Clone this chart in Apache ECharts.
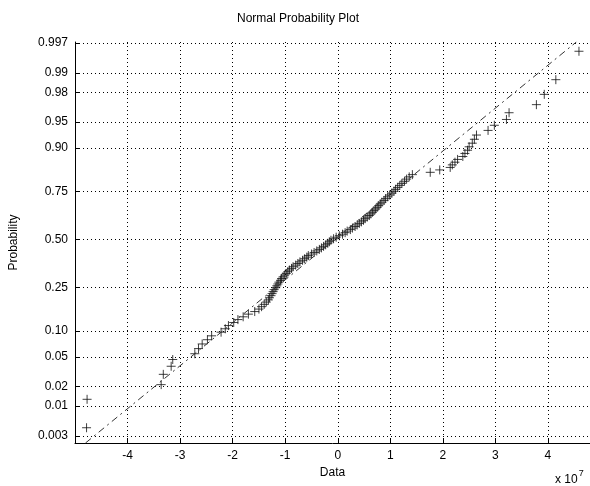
<!DOCTYPE html>
<html><head><meta charset="utf-8">
<script src="https://cdn.jsdelivr.net/npm/echarts@6/dist/echarts.min.js"></script>
<style>html,body{margin:0;padding:0;background:#fff}#c{width:590px;height:486px}</style>
</head><body><div id="c"></div>
<script>
// Sorted sample values (units of 10^7)
const sampleValues = [
 -4.78, -4.77, -3.36, -3.32, -3.17, -3.14, -2.72, -2.65, -2.58, -2.48,
 -2.40, -2.22, -2.14, -2.08, -1.98, -1.90, -1.80, -1.70, -1.58, -1.50,
 -1.45, -1.40, -1.36, -1.32, -1.30, -1.27, -1.25, -1.23, -1.21, -1.18,
 -1.16, -1.14, -1.12, -1.09, -1.07, -1.04, -1.01, -0.98, -0.95, -0.92,
 -0.88, -0.85, -0.80, -0.76, -0.72, -0.67, -0.63, -0.59, -0.56, -0.50,
 -0.45, -0.40, -0.35, -0.31, -0.27, -0.23, -0.19, -0.16, -0.13, -0.08,
 -0.03, 0.03, 0.09, 0.14, 0.18, 0.24, 0.28, 0.33, 0.37, 0.41,
 0.45, 0.49, 0.52, 0.56, 0.60, 0.63, 0.66, 0.69, 0.72, 0.75,
 0.78, 0.81, 0.84, 0.88, 0.91, 0.95, 0.99, 1.03, 1.07, 1.10,
 1.14, 1.18, 1.22, 1.27, 1.31, 1.36, 1.42, 1.76, 1.94, 2.14,
 2.18, 2.23, 2.28, 2.38, 2.42, 2.47, 2.50, 2.56, 2.60, 2.64,
 2.86, 2.98, 3.21, 3.26, 3.78, 3.93, 4.15, 4.59
];
const probTicks = [0.003, 0.01, 0.02, 0.05, 0.10, 0.25, 0.50, 0.75, 0.90, 0.95, 0.98, 0.99, 0.997];
const probTickLabels = ['0.003','0.01','0.02','0.05','0.10','0.25','0.50','0.75','0.90','0.95','0.98','0.99','0.997'];
const probRange = [0.002214, 0.997127];
const xRange = [-5, 4.8];
const refLineX = [-4.80, 4.54];
const refLineP = [0.002214, 0.997127];

// inverse standard normal CDF (probability-scale transform)
function norminv(p) {
  const a=[-3.969683028665376e+01,2.209460984245205e+02,-2.759285104469687e+02,1.383577518672690e+02,-3.066479806614716e+01,2.506628277459239e+00];
  const b=[-5.447609879822406e+01,1.615858368580409e+02,-1.556989798598866e+02,6.680131188771972e+01,-1.328068155288572e+01];
  const c=[-7.784894002430293e-03,-3.223964580411365e-01,-2.400758277161838e+00,-2.549732539343734e+00,4.374664141464968e+00,2.938163982698783e+00];
  const d=[7.784695709041462e-03,3.224671290700398e-01,2.445134137142996e+00,3.754408661907416e+00];
  const pl=0.02425, ph=1-pl; let q,r;
  if (p<pl){q=Math.sqrt(-2*Math.log(p));return (((((c[0]*q+c[1])*q+c[2])*q+c[3])*q+c[4])*q+c[5])/((((d[0]*q+d[1])*q+d[2])*q+d[3])*q+1);}
  if (p<=ph){q=p-0.5;r=q*q;return (((((a[0]*r+a[1])*r+a[2])*r+a[3])*r+a[4])*r+a[5])*q/(((((b[0]*r+b[1])*r+b[2])*r+b[3])*r+b[4])*r+1);}
  q=Math.sqrt(-2*Math.log(1-p));return -(((((c[0]*q+c[1])*q+c[2])*q+c[3])*q+c[4])*q+c[5])/((((d[0]*q+d[1])*q+d[2])*q+d[3])*q+1);
}

const n = sampleValues.length;
const points = sampleValues.map((v, i) => [v, norminv((i + 0.5) / n)]);
const zTicks = probTicks.map(norminv);
const refLine = refLineX.map((x, i) => [x, norminv(refLineP[i])]);
const FONT = 'Liberation Sans, Arial, sans-serif';

const chart = echarts.init(document.getElementById('c'), null, {renderer: 'canvas'});
chart.setOption({
  animation: false,
  backgroundColor: '#fff',
  title: {
    text: 'Normal Probability Plot', left: 293, top: 8, textAlign: 'center',
    textStyle: {fontFamily: FONT, fontSize: 12, fontWeight: 'normal', color: '#000'}
  },
  grid: {left: 74, right: 0, top: 42, bottom: 43, containLabel: false},
  xAxis: {
    type: 'value', min: xRange[0], max: xRange[1], interval: 1,
    name: 'Data', nameLocation: 'middle', nameGap: 23,
    nameTextStyle: {fontFamily: FONT, fontSize: 12, color: '#000'},
    axisLine: {show: true, onZero: false, lineStyle: {color: '#000', width: 1}},
    axisTick: {show: true, inside: true, length: 5, lineStyle: {color: '#000'}},
    axisLabel: {
      fontFamily: FONT, fontSize: 12, color: '#000', margin: 7,
      showMinLabel: false, showMaxLabel: false,
      formatter: v => (Math.abs(v - Math.round(v)) < 1e-9 ? String(Math.round(v)) : '')
    },
    splitLine: {show: true, showMinLine: false, showMaxLine: false,
      lineStyle: {color: '#000', width: 1, type: [1, 3]}}
  },
  yAxis: {
    type: 'value', min: norminv(probRange[0]), max: norminv(probRange[1]),
    name: 'Probability', nameLocation: 'middle', nameGap: 55, nameRotate: 90,
    nameTextStyle: {fontFamily: FONT, fontSize: 12, color: '#000'},
    axisLine: {show: true, onZero: false, lineStyle: {color: '#000', width: 1}},
    axisTick: {show: true, inside: true, length: 5, customValues: zTicks, lineStyle: {color: '#000'}},
    axisLabel: {
      fontFamily: FONT, fontSize: 12, color: '#000', margin: 7,
      customValues: zTicks,
      formatter: v => {
        let best = 0;
        zTicks.forEach((z, i) => { if (Math.abs(z - v) < Math.abs(zTicks[best] - v)) best = i; });
        return probTickLabels[best];
      }
    },
    splitLine: {show: true, lineStyle: {color: '#000', width: 1, type: [1, 3]}}
  },
  graphic: [{
    type: 'text', left: 555, top: 469,
    style: {
      text: '{b|x 10}{s|7}', fill: '#000',
      rich: {
        b: {fontFamily: FONT, fontSize: 12, fill: '#000', verticalAlign: 'bottom'},
        s: {fontFamily: FONT, fontSize: 9, fill: '#000', padding: [0, 0, 8, 1], verticalAlign: 'top'}
      }
    }
  }],
  series: [
    {
      type: 'line', data: refLine, showSymbol: false, silent: true, clip: true,
      lineStyle: {color: '#333', width: 1, type: [7, 4, 2, 4]}
    },
    {
      type: 'scatter', data: points, silent: true,
      symbol: 'path://M5,0L5,10M0,5L10,5', symbolSize: 9,
      itemStyle: {color: 'none', borderColor: '#111', borderWidth: 1}
    }
  ]
});
</script></body></html>
